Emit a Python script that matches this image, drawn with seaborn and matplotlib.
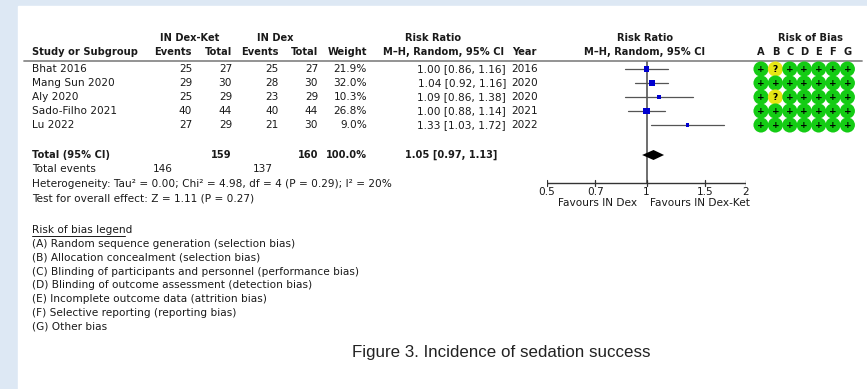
import numpy as np
import pandas as pd
import matplotlib
matplotlib.use('Agg')
import matplotlib.pyplot as plt
import seaborn as sns

# study level data
studies = ['Bhat 2016', 'Mang Sun 2020', 'Aly 2020', 'Sado-Filho 2021', 'Lu 2022']
ev_ket = [25, 29, 25, 40, 27]
tot_ket = [27, 30, 29, 44, 29]
ev_dex = [25, 28, 23, 40, 21]
tot_dex = [27, 30, 29, 44, 30]
weights = [21.9, 32.0, 10.3, 26.8, 9.0]
rr = [1.00, 1.04, 1.09, 1.00, 1.33]
rr_lo = [0.86, 0.92, 0.86, 0.88, 1.03]
rr_hi = [1.16, 1.16, 1.38, 1.14, 1.72]
years = [2016, 2020, 2020, 2021, 2022]
bias = ['+?+++++', '+++++++', '+?+++++', '+++++++', '+++++++']
bias_letters = ['A', 'B', 'C', 'D', 'E', 'F', 'G']

# pooled results
total_ket, total_dex = 159, 160
events_ket, events_dex = 146, 137
pooled_rr, pooled_lo, pooled_hi = 1.05, 0.97, 1.13
het_text = 'Heterogeneity: Tau² = 0.00; Chi² = 4.98, df = 4 (P = 0.29); I² = 20%'
effect_text = 'Test for overall effect: Z = 1.11 (P = 0.27)'
axis_ticks = [0.5, 0.7, 1, 1.5, 2]
axis_labels = ['0.5', '0.7', '1', '1.5', '2']

legend_items = [
    '(A) Random sequence generation (selection bias)',
    '(B) Allocation concealment (selection bias)',
    '(C) Blinding of participants and personnel (performance bias)',
    '(D) Blinding of outcome assessment (detection bias)',
    '(E) Incomplete outcome data (attrition bias)',
    '(F) Selective reporting (reporting bias)',
    '(G) Other bias',
]
caption = 'Figure 3. Incidence of sedation success'

sns.set_style('white')
plt.rcParams['font.family'] = ['DejaVu Sans']

W, H = 867, 389
fig = plt.figure(figsize=(W / 100, H / 100), dpi=100)
fig.patch.set_facecolor('#dde8f4')

# canvas in pixel coordinates
cv = fig.add_axes([0, 0, 1, 1])
cv.set_xlim(0, W)
cv.set_ylim(H, 0)
cv.axis('off')
cv.add_patch(plt.Rectangle((18, 6), W - 18, H - 6, color='white', zorder=0))

fs = 7.6    # regular text
fb = 7.15   # bold text
txt = '#1a1a1a'
row_y = [69, 83, 97, 111, 125]

# headers
cv.text(190, 38, 'IN Dex-Ket', ha='center', va='center', fontsize=fb, weight='bold', color=txt)
cv.text(275, 38, 'IN Dex', ha='center', va='center', fontsize=fb, weight='bold', color=txt)
cv.text(433, 38, 'Risk Ratio', ha='center', va='center', fontsize=fb, weight='bold', color=txt)
cv.text(645, 38, 'Risk Ratio', ha='center', va='center', fontsize=fb, weight='bold', color=txt)
cv.text(810, 38, 'Risk of Bias', ha='center', va='center', fontsize=fb, weight='bold', color=txt)
cv.text(32, 52, 'Study or Subgroup', ha='left', va='center', fontsize=fb, weight='bold', color=txt)
for x, s in [(192, 'Events'), (232, 'Total'), (279, 'Events'), (318, 'Total'), (367, 'Weight'), (537, 'Year')]:
    cv.text(x, 52, s, ha='right', va='center', fontsize=fb, weight='bold', color=txt)
cv.text(444, 52, 'M\u2013H, Random, 95% CI', ha='center', va='center', fontsize=fb, weight='bold', color=txt)
cv.text(645, 52, 'M\u2013H, Random, 95% CI', ha='center', va='center', fontsize=fb, weight='bold', color=txt)
bias_x = [761 + 14.4 * i for i in range(7)]
for x, l in zip(bias_x, bias_letters):
    cv.text(x, 52, l, ha='center', va='center', fontsize=fb, weight='bold', color=txt)
cv.plot([24, 862], [61, 61], color='#8a8a8a', lw=1.3)

# study rows
for i, y in enumerate(row_y):
    cv.text(32, y, studies[i], ha='left', va='center', fontsize=fs, color=txt)
    cv.text(192, y, str(ev_ket[i]), ha='right', va='center', fontsize=fs, color=txt)
    cv.text(232, y, str(tot_ket[i]), ha='right', va='center', fontsize=fs, color=txt)
    cv.text(279, y, str(ev_dex[i]), ha='right', va='center', fontsize=fs, color=txt)
    cv.text(318, y, str(tot_dex[i]), ha='right', va='center', fontsize=fs, color=txt)
    cv.text(367, y, f'{weights[i]:.1f}%', ha='right', va='center', fontsize=fs, color=txt)
    cv.text(506, y, f'{rr[i]:.2f} [{rr_lo[i]:.2f}, {rr_hi[i]:.2f}]', ha='right', va='center', fontsize=fs, color=txt)
    cv.text(538, y, str(years[i]), ha='right', va='center', fontsize=fs, color=txt)

# risk of bias circles
rob = pd.DataFrame([(bias_x[j], row_y[i], c) for i, b in enumerate(bias) for j, c in enumerate(b)],
                   columns=['x', 'y', 'judgement'])
sns.scatterplot(data=rob, x='x', y='y', hue='judgement', palette={'+': '#14cc14', '?': '#e6e614'},
                s=118, linewidth=0, legend=False, ax=cv, zorder=3)
for _, r in rob.iterrows():
    cv.text(r['x'], r['y'] + 0.3, r['judgement'], ha='center', va='center', fontsize=6.5,
            weight='bold', color='black', zorder=4)

# totals
ty = 155
cv.text(32, ty, 'Total (95% CI)', ha='left', va='center', fontsize=fb, weight='bold', color=txt)
cv.text(232, ty, str(total_ket), ha='right', va='center', fontsize=fb, weight='bold', color=txt)
cv.text(318, ty, str(total_dex), ha='right', va='center', fontsize=fb, weight='bold', color=txt)
cv.text(367, ty, '100.0%', ha='right', va='center', fontsize=fb, weight='bold', color=txt)
cv.text(497, ty, f'{pooled_rr:.2f} [{pooled_lo:.2f}, {pooled_hi:.2f}]', ha='right', va='center',
        fontsize=fb, weight='bold', color=txt)
cv.text(32, 169, 'Total events', ha='left', va='center', fontsize=fs, color=txt)
cv.text(173, 169, str(events_ket), ha='right', va='center', fontsize=fs, color=txt)
cv.text(273, 169, str(events_dex), ha='right', va='center', fontsize=fs, color=txt)
cv.text(32, 184, het_text, ha='left', va='center', fontsize=fs, color=txt)
cv.text(32, 198, effect_text, ha='left', va='center', fontsize=fs, color=txt)

# risk of bias legend
cv.text(32, 230, 'Risk of bias legend', ha='left', va='center', fontsize=fs, color=txt)
cv.plot([32, 125], [235.5, 235.5], color=txt, lw=0.7)
for k, s in enumerate(legend_items):
    cv.text(32, 244 + 13.8 * k, s, ha='left', va='center', fontsize=fs, color=txt)

cv.text(501, 352, caption, ha='center', va='center', fontsize=12.2,
        family='Liberation Sans', color='#222222')

# forest plot on a log scale
fx0, fx1 = 547, 746
fa = fig.add_axes([fx0 / W, 0, (fx1 - fx0) / W, 1])
fa.set_xscale('log')
fa.set_xlim(0.5, 2)
fa.set_ylim(H, 0)
fa.axis('off')
fa.patch.set_alpha(0)

axis_y = 183
fa.plot([1, 1], [62, axis_y], color='#555555', lw=1.2, zorder=1)
for i, y in enumerate(row_y):
    fa.plot([rr_lo[i], rr_hi[i]], [y, y], color='#555555', lw=0.9, zorder=2)
fdf = pd.DataFrame({'rr': rr, 'y': row_y, 'w': weights})
fdf['size'] = (6.6 * 0.72) ** 2 * fdf['w'] / 32.0
sns.scatterplot(data=fdf, x='rr', y='y', size='size', sizes=(fdf['size'].min(), fdf['size'].max()),
                marker='s', color='#0000d0', linewidth=0, legend=False, ax=fa, zorder=3)
fa.fill([pooled_lo, pooled_rr, pooled_hi, pooled_rr], [ty, ty - 5, ty, ty + 5], color='black',
        zorder=3, lw=0)

fa.plot([axis_ticks[0], axis_ticks[-1]], [axis_y, axis_y], color='#333333', lw=1.0)
for t, lab in zip(axis_ticks, axis_labels):
    fa.plot([t, t], [axis_y - 3, axis_y + 3], color='#333333', lw=0.9)
    fa.text(t, axis_y + 8.5, lab, ha='center', va='center', fontsize=fs, color=txt)
fa.text(0.936, axis_y + 20, 'Favours IN Dex', ha='right', va='center', fontsize=fs, color=txt)
fa.text(1.025, axis_y + 20, 'Favours IN Dex-Ket', ha='left', va='center', fontsize=fs, color=txt)

fig.savefig('out.png', dpi=100, facecolor=fig.get_facecolor())
